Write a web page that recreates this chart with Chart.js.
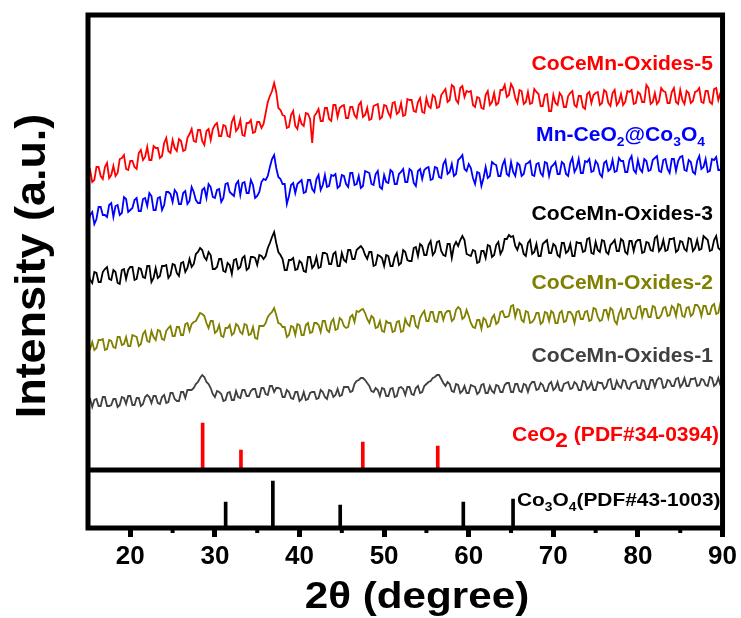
<!DOCTYPE html>
<html>
<head>
<meta charset="utf-8">
<script src="https://cdn.jsdelivr.net/npm/chart.js@4.4.1/dist/chart.umd.min.js"></script>
<style>
  html, body { margin: 0; background: #fff; }
  #wrap { width: 741px; height: 618px; }
</style>
</head>
<body>
<div id="wrap"><canvas id="xrdChart" width="741" height="618"></canvas></div>
<script>
// --- data (2θ step 0.25°, intensity in a.u.) ---
const twoTheta = [
  15, 15.25, 15.5, 15.75, 16, 16.25, 16.5, 16.75, 17, 17.25,
  17.5, 17.75, 18, 18.25, 18.5, 18.75, 19, 19.25, 19.5, 19.75,
  20, 20.25, 20.5, 20.75, 21, 21.25, 21.5, 21.75, 22, 22.25,
  22.5, 22.75, 23, 23.25, 23.5, 23.75, 24, 24.25, 24.5, 24.75,
  25, 25.25, 25.5, 25.75, 26, 26.25, 26.5, 26.75, 27, 27.25,
  27.5, 27.75, 28, 28.25, 28.5, 28.75, 29, 29.25, 29.5, 29.75,
  30, 30.25, 30.5, 30.75, 31, 31.25, 31.5, 31.75, 32, 32.25,
  32.5, 32.75, 33, 33.25, 33.5, 33.75, 34, 34.25, 34.5, 34.75,
  35, 35.25, 35.5, 35.75, 36, 36.25, 36.5, 36.75, 37, 37.25,
  37.5, 37.75, 38, 38.25, 38.5, 38.75, 39, 39.25, 39.5, 39.75,
  40, 40.25, 40.5, 40.75, 41, 41.25, 41.5, 41.75, 42, 42.25,
  42.5, 42.75, 43, 43.25, 43.5, 43.75, 44, 44.25, 44.5, 44.75,
  45, 45.25, 45.5, 45.75, 46, 46.25, 46.5, 46.75, 47, 47.25,
  47.5, 47.75, 48, 48.25, 48.5, 48.75, 49, 49.25, 49.5, 49.75,
  50, 50.25, 50.5, 50.75, 51, 51.25, 51.5, 51.75, 52, 52.25,
  52.5, 52.75, 53, 53.25, 53.5, 53.75, 54, 54.25, 54.5, 54.75,
  55, 55.25, 55.5, 55.75, 56, 56.25, 56.5, 56.75, 57, 57.25,
  57.5, 57.75, 58, 58.25, 58.5, 58.75, 59, 59.25, 59.5, 59.75,
  60, 60.25, 60.5, 60.75, 61, 61.25, 61.5, 61.75, 62, 62.25,
  62.5, 62.75, 63, 63.25, 63.5, 63.75, 64, 64.25, 64.5, 64.75,
  65, 65.25, 65.5, 65.75, 66, 66.25, 66.5, 66.75, 67, 67.25,
  67.5, 67.75, 68, 68.25, 68.5, 68.75, 69, 69.25, 69.5, 69.75,
  70, 70.25, 70.5, 70.75, 71, 71.25, 71.5, 71.75, 72, 72.25,
  72.5, 72.75, 73, 73.25, 73.5, 73.75, 74, 74.25, 74.5, 74.75,
  75, 75.25, 75.5, 75.75, 76, 76.25, 76.5, 76.75, 77, 77.25,
  77.5, 77.75, 78, 78.25, 78.5, 78.75, 79, 79.25, 79.5, 79.75,
  80, 80.25, 80.5, 80.75, 81, 81.25, 81.5, 81.75, 82, 82.25,
  82.5, 82.75, 83, 83.25, 83.5, 83.75, 84, 84.25, 84.5, 84.75,
  85, 85.25, 85.5, 85.75, 86, 86.25, 86.5, 86.75, 87, 87.25,
  87.5, 87.75, 88, 88.25, 88.5, 88.75, 89, 89.25, 89.5, 89.75,
  90
];

const oxides5 = [
  355, 358, 346, 348, 361, 361, 352, 349, 361, 365,
  350, 353, 362, 352, 355, 369, 370, 373, 359, 358,
  367, 367, 361, 359, 375, 378, 368, 371, 381, 368,
  368, 382, 380, 380, 370, 372, 385, 390, 377, 375,
  388, 380, 377, 389, 387, 377, 378, 390, 394, 399,
  387, 386, 398, 398, 387, 383, 397, 399, 388, 399,
  403, 405, 392, 392, 403, 402, 392, 391, 406, 411,
  397, 400, 408, 393, 392, 405, 405, 408, 395, 396,
  406, 406, 400, 404, 415, 426, 432, 437, 445, 436,
  420, 418, 413, 412, 400, 401, 413, 417, 402, 399,
  411, 404, 402, 415, 414, 409, 385, 412, 415, 419,
  407, 407, 420, 420, 409, 407, 423, 423, 411, 420,
  422, 423, 410, 410, 421, 421, 413, 410, 423, 426,
  411, 413, 420, 408, 409, 422, 423, 424, 409, 411,
  423, 422, 415, 411, 425, 426, 414, 416, 425, 412,
  413, 429, 428, 428, 417, 416, 426, 430, 416, 415,
  430, 422, 420, 433, 431, 420, 421, 433, 436, 439,
  426, 428, 443, 441, 428, 425, 440, 442, 431, 437,
  436, 437, 423, 421, 431, 430, 420, 419, 433, 437,
  423, 426, 435, 423, 425, 438, 438, 443, 431, 433,
  444, 440, 430, 425, 438, 437, 424, 426, 436, 424,
  425, 439, 436, 434, 422, 422, 433, 434, 417, 417,
  433, 425, 423, 435, 432, 421, 421, 432, 435, 437,
  423, 421, 432, 432, 421, 419, 434, 436, 425, 433,
  435, 436, 423, 425, 438, 436, 425, 422, 435, 438,
  423, 426, 434, 423, 426, 437, 436, 438, 424, 425,
  436, 434, 426, 426, 443, 440, 424, 426, 435, 424,
  427, 440, 437, 436, 425, 425, 436, 440, 426, 424,
  438, 428, 424, 437, 435, 425, 427, 436, 437, 440,
  426, 425, 437, 437, 426, 424, 439, 440, 428, 435,
  436
];

const mnCeO2Co3O4 = [
  304, 313, 316, 304, 309, 321, 321, 313, 313, 311,
  323, 325, 311, 322, 323, 313, 315, 331, 329, 316,
  318, 320, 328, 330, 317, 317, 329, 330, 322, 335,
  332, 318, 318, 330, 331, 318, 323, 336, 336, 334,
  326, 338, 335, 324, 324, 335, 337, 324, 327, 341,
  336, 328, 325, 325, 338, 340, 330, 344, 341, 331,
  330, 338, 339, 326, 330, 344, 345, 336, 334, 332,
  344, 347, 333, 345, 346, 335, 335, 348, 343, 330,
  332, 336, 346, 349, 348, 352, 361, 369, 373, 360,
  351, 349, 344, 344, 324, 332, 343, 345, 335, 344,
  346, 348, 335, 336, 348, 348, 339, 336, 349, 353,
  338, 343, 353, 341, 342, 353, 352, 354, 340, 342,
  353, 352, 344, 341, 355, 355, 343, 344, 352, 340,
  342, 357, 356, 355, 344, 343, 354, 357, 341, 339,
  353, 346, 345, 358, 356, 344, 344, 354, 356, 359,
  346, 346, 359, 357, 345, 342, 357, 359, 349, 358,
  360, 361, 348, 349, 361, 360, 351, 350, 364, 368,
  354, 356, 364, 352, 354, 368, 370, 373, 359, 357,
  364, 360, 350, 344, 356, 355, 342, 350, 361, 350,
  352, 366, 364, 363, 352, 352, 363, 368, 354, 352,
  366, 356, 352, 365, 363, 352, 354, 364, 365, 367,
  353, 352, 364, 365, 355, 352, 366, 365, 352, 361,
  363, 366, 354, 354, 366, 364, 354, 352, 365, 370,
  356, 360, 369, 355, 355, 367, 366, 369, 356, 357,
  367, 364, 354, 351, 365, 367, 357, 359, 368, 356,
  357, 370, 367, 367, 356, 356, 368, 372, 358, 355,
  368, 359, 356, 369, 367, 357, 358, 368, 370, 372,
  357, 356, 368, 369, 359, 355, 369, 369, 357, 367,
  371, 372, 358, 357, 368, 366, 356, 354, 367, 372,
  359, 361, 369, 356, 357, 369, 368, 371, 358, 358,
  367
];

const oxides3 = [
  256, 248, 245, 256, 255, 246, 246, 256, 259, 261,
  249, 248, 258, 256, 245, 244, 258, 259, 249, 258,
  261, 261, 248, 249, 260, 259, 251, 250, 262, 262,
  246, 250, 260, 250, 252, 262, 262, 263, 250, 253,
  264, 263, 255, 252, 265, 266, 256, 260, 269, 261,
  264, 274, 276, 280, 278, 271, 268, 276, 273, 259,
  259, 261, 269, 269, 257, 256, 265, 263, 254, 268,
  269, 259, 261, 270, 272, 258, 260, 271, 271, 270,
  263, 273, 272, 269, 272, 280, 285, 291, 296, 285,
  276, 273, 269, 258, 258, 268, 268, 270, 258, 259,
  267, 265, 257, 256, 271, 271, 260, 263, 271, 260,
  261, 275, 275, 274, 264, 264, 274, 276, 262, 262,
  275, 268, 266, 278, 278, 269, 269, 278, 280, 282,
  279, 273, 269, 276, 276, 262, 263, 273, 272, 270,
  262, 273, 272, 262, 262, 271, 275, 263, 265, 278,
  276, 268, 267, 267, 280, 281, 272, 284, 282, 273,
  273, 283, 287, 273, 276, 286, 287, 277, 273, 272,
  284, 284, 270, 282, 286, 282, 288, 292, 288, 274,
  273, 272, 278, 277, 265, 266, 277, 277, 270, 283,
  282, 271, 273, 283, 286, 274, 278, 289, 289, 293,
  291, 292, 282, 278, 285, 283, 274, 272, 285, 288,
  274, 276, 284, 272, 272, 284, 286, 288, 275, 275,
  284, 282, 273, 271, 285, 285, 275, 277, 284, 272,
  272, 286, 285, 285, 276, 277, 289, 290, 275, 274,
  286, 278, 276, 288, 287, 276, 274, 283, 285, 288,
  277, 277, 289, 287, 276, 274, 287, 287, 277, 286,
  288, 288, 275, 276, 286, 285, 278, 277, 290, 292,
  277, 280, 288, 277, 278, 289, 289, 290, 276, 278,
  287, 286, 279, 277, 290, 289, 277, 280, 288, 278,
  279, 292, 290, 288, 277, 278, 288, 292, 280, 278,
  289
];

const oxides2 = [
  176, 179, 186, 178, 180, 188, 188, 189, 178, 179,
  188, 187, 181, 180, 191, 191, 183, 184, 191, 182,
  182, 193, 192, 191, 182, 184, 194, 197, 187, 186,
  197, 191, 188, 198, 197, 189, 188, 197, 200, 202,
  192, 192, 201, 201, 193, 193, 204, 205, 197, 204,
  206, 207, 211, 215, 214, 212, 205, 200, 207, 207,
  195, 197, 203, 192, 191, 200, 200, 203, 193, 195,
  204, 202, 196, 194, 204, 203, 193, 194, 201, 190,
  189, 202, 202, 202, 205, 211, 214, 216, 220, 213,
  205, 204, 201, 201, 191, 193, 202, 201, 193, 204,
  203, 193, 193, 203, 205, 195, 196, 205, 205, 203,
  196, 207, 207, 198, 196, 206, 209, 198, 199, 210,
  208, 202, 200, 201, 211, 213, 206, 217, 216, 218,
  219, 215, 209, 205, 212, 210, 200, 201, 207, 197,
  196, 207, 205, 205, 196, 197, 206, 207, 196, 197,
  209, 204, 202, 212, 212, 202, 200, 210, 214, 217,
  207, 207, 216, 216, 207, 206, 216, 216, 208, 215,
  217, 217, 207, 209, 218, 221, 219, 209, 211, 218,
  212, 205, 201, 200, 208, 208, 199, 210, 208, 201,
  202, 210, 213, 204, 206, 216, 217, 211, 211, 212,
  222, 223, 211, 219, 218, 208, 206, 217, 216, 205,
  206, 209, 215, 215, 204, 206, 216, 215, 207, 217,
  215, 205, 205, 215, 217, 206, 207, 216, 216, 213,
  205, 216, 217, 209, 209, 216, 217, 207, 208, 220,
  219, 211, 207, 208, 218, 218, 210, 220, 218, 207,
  204, 214, 219, 209, 210, 219, 219, 211, 209, 210,
  221, 222, 211, 219, 219, 211, 211, 222, 221, 210,
  210, 213, 220, 221, 212, 213, 222, 220, 212, 224,
  223, 212, 211, 220, 221, 212, 214, 223, 223, 220,
  212, 222, 222, 214, 214, 222, 224, 214, 215, 225,
  223
];

const oxides1 = [
  128, 129, 121, 128, 129, 122, 122, 131, 131, 122,
  122, 123, 129, 129, 121, 123, 131, 130, 124, 132,
  132, 123, 123, 130, 130, 122, 124, 131, 133, 131,
  125, 132, 132, 125, 124, 131, 133, 125, 126, 135,
  135, 129, 127, 127, 136, 136, 130, 138, 138, 138,
  140, 144, 146, 150, 153, 151, 146, 144, 140, 134,
  131, 137, 136, 134, 127, 128, 135, 136, 128, 128,
  137, 131, 130, 138, 138, 132, 132, 137, 139, 139,
  131, 131, 140, 140, 134, 133, 142, 142, 136, 140,
  140, 139, 131, 131, 138, 136, 130, 129, 136, 136,
  127, 129, 136, 128, 129, 135, 136, 136, 129, 130,
  138, 136, 131, 129, 138, 137, 131, 133, 139, 132,
  133, 141, 141, 141, 136, 137, 144, 147, 148, 150,
  150, 148, 145, 142, 137, 136, 140, 138, 132, 140,
  139, 132, 132, 139, 140, 131, 132, 140, 141, 139,
  133, 141, 141, 134, 133, 140, 142, 135, 136, 142,
  144, 146, 147, 150, 151, 153, 153, 149, 145, 142,
  146, 144, 137, 136, 144, 143, 135, 137, 142, 135,
  135, 143, 142, 141, 134, 136, 143, 144, 135, 135,
  142, 137, 135, 143, 142, 136, 136, 143, 145, 145,
  136, 136, 144, 144, 137, 136, 144, 143, 136, 143,
  146, 146, 138, 139, 145, 143, 137, 137, 144, 146,
  138, 140, 146, 138, 137, 144, 145, 146, 139, 140,
  146, 144, 138, 138, 147, 146, 139, 141, 146, 138,
  138, 146, 145, 145, 139, 141, 148, 149, 139, 139,
  147, 142, 140, 148, 147, 140, 139, 145, 146, 147,
  140, 140, 148, 147, 139, 139, 148, 148, 141, 148,
  150, 149, 140, 141, 148, 147, 142, 142, 149, 150,
  141, 144, 150, 142, 142, 149, 149, 150, 142, 143,
  149, 148, 143, 142, 151, 150, 142, 144, 150, 143,
  143
];

// standard reference cards (stick positions and heights)
const ceo2Pos = [28.55, 33.08, 47.48, 56.34];
const ceo2Top = [105, 78, 86, 82];
const co3o4Pos = [31.27, 36.85, 44.81, 59.36, 65.24];
const co3o4Top = [26, 47, 23, 26, 29];
const panelDivider = 58;   // baseline of the CeO2 card panel

const xTicks = [20, 30, 40, 50, 60, 70, 80, 90];
const xMinorTicks = [25, 35, 45, 55, 65, 75, 85];

const seriesNames = ['CoCeMn-Oxides-5', 'Mn-CeO_2@Co_3O_4', 'CoCeMn-Oxides-3', 'CoCeMn-Oxides-2', 'CoCeMn-Oxides-1'];
const seriesColors = ['#ff0000', '#0000ff', '#000000', '#808000', '#404040'];
const seriesValues = [oxides5, mnCeO2Co3O4, oxides3, oxides2, oxides1];

const FONT = '"Liberation Sans", Arial, Helvetica, sans-serif';

// text with _x = subscript, ~x = lowered full-size character
function richText(ctx, str, x, y, opt) {
  const segs = [];
  for (let i = 0; i < str.length; i++) {
    const c = str[i];
    if (c === '_' || c === '~') { segs.push({ t: str[i + 1], k: c }); i++; }
    else if (segs.length && segs[segs.length - 1].k === '') segs[segs.length - 1].t += c;
    else segs.push({ t: c, k: '' });
  }
  const fontFor = k => `${opt.weight || 'bold'} ${k === '_' ? opt.size * 0.66 : k === '~' ? opt.size * 1.08 : opt.size}px ${FONT}`;
  const dy = k => k === '_' ? opt.size * 0.27 : k === '~' ? opt.size * 0.3 : 0;
  let w = 0;
  segs.forEach(s => { ctx.font = fontFor(s.k); s.w = ctx.measureText(s.t).width; w += s.w; });
  ctx.save();
  ctx.translate(x, y);
  ctx.scale(opt.sx || 1, 1);
  let cx = opt.align === 'right' ? -w : opt.align === 'center' ? -w / 2 : 0;
  ctx.fillStyle = opt.color;
  ctx.textAlign = 'left';
  ctx.textBaseline = 'alphabetic';
  segs.forEach(s => { ctx.font = fontFor(s.k); ctx.fillText(s.t, cx, dy(s.k)); cx += s.w; });
  ctx.restore();
}

const xrdDecor = {
  id: 'xrdDecor',
  afterDatasetsDraw(chart) {
    const { ctx, chartArea: a, scales: { x, y } } = chart;
    ctx.save();
    // frame + panel divider
    ctx.strokeStyle = '#000';
    ctx.lineWidth = 5;
    ctx.strokeRect(a.left, a.top, a.right - a.left, a.bottom - a.top);
    const yd = y.getPixelForValue(panelDivider);
    ctx.beginPath();
    ctx.moveTo(a.left, yd);
    ctx.lineTo(a.right, yd);
    ctx.stroke();
    // minor ticks
    ctx.fillStyle = '#000';
    xMinorTicks.forEach(v => {
      const px = x.getPixelForValue(v);
      ctx.fillRect(px - 2, a.bottom, 4, 5);
    });

    // sample labels
    const labelBase = [70, 141, 220, 289, 362];
    const labelRight = [713, 705, 713, 713, 713];
    seriesNames.forEach((name, i) => {
      richText(ctx, name, labelRight[i], labelBase[i], { size: 19.5, sx: 1.08, align: 'right', color: seriesColors[i] });
    });
    richText(ctx, 'CeO~2 (PDF#34-0394)', 719, 441, { size: 19.5, sx: 1.08, align: 'right', color: '#ff0000' });
    richText(ctx, 'Co_3O_4(PDF#43-1003)', 517, 506, { size: 19, sx: 1.1, align: 'left', color: '#000' });

    // axis titles
    richText(ctx, '2θ (degree)', 417, 608, { size: 37, sx: 1.14, align: 'center', color: '#000' });
    ctx.save();
    ctx.translate(45, 266);
    ctx.rotate(-Math.PI / 2);
    richText(ctx, 'Intensity (a.u.)', 0, 0, { size: 42, sx: 1.07, align: 'center', color: '#000' });
    ctx.restore();
    ctx.restore();
  }
};

const lineSets = seriesValues.map((vals, i) => ({
  type: 'line',
  label: seriesNames[i],
  data: twoTheta.map((t, j) => ({ x: t, y: vals[j] })),
  borderColor: seriesColors[i],
  borderWidth: 1.8,
  borderJoinStyle: 'miter',
  pointRadius: 0,
  tension: 0
}));

const stickSets = [
  {
    type: 'bar',
    label: 'CeO2',
    data: ceo2Pos.map((p, i) => ({ x: p, y: [panelDivider, ceo2Top[i]] })),
    backgroundColor: '#ff0000',
    barThickness: 3,
    grouped: false
  },
  {
    type: 'bar',
    label: 'Co3O4',
    data: co3o4Pos.map((p, i) => ({ x: p, y: [0, co3o4Top[i]] })),
    backgroundColor: '#000000',
    barThickness: 3,
    grouped: false
  }
];

new Chart(document.getElementById('xrdChart').getContext('2d'), {
  type: 'line',
  data: { datasets: [...lineSets, ...stickSets] },
  options: {
    responsive: false,
    animation: false,
    devicePixelRatio: 1,
    layout: { padding: { left: 88, top: 15, right: 18, bottom: 0 } },
    plugins: { legend: { display: false }, tooltip: { enabled: false } },
    scales: {
      x: {
        type: 'linear',
        min: 15,
        max: 90,
        offset: false,
        afterBuildTicks: scale => { scale.ticks = xTicks.map(v => ({ value: v })); },
        afterFit: scale => { scale.height = 90; },
        grid: { display: true, drawOnChartArea: false, drawTicks: true, tickLength: 9, tickWidth: 5, tickColor: '#000', offset: false },
        border: { display: false },
        ticks: { color: '#000', padding: 4, maxRotation: 0, font: { family: FONT, size: 26, weight: 'bold' } }
      },
      y: {
        display: false,
        min: 0,
        max: 513
      }
    }
  },
  plugins: [xrdDecor]
});
</script>
</body>
</html>
